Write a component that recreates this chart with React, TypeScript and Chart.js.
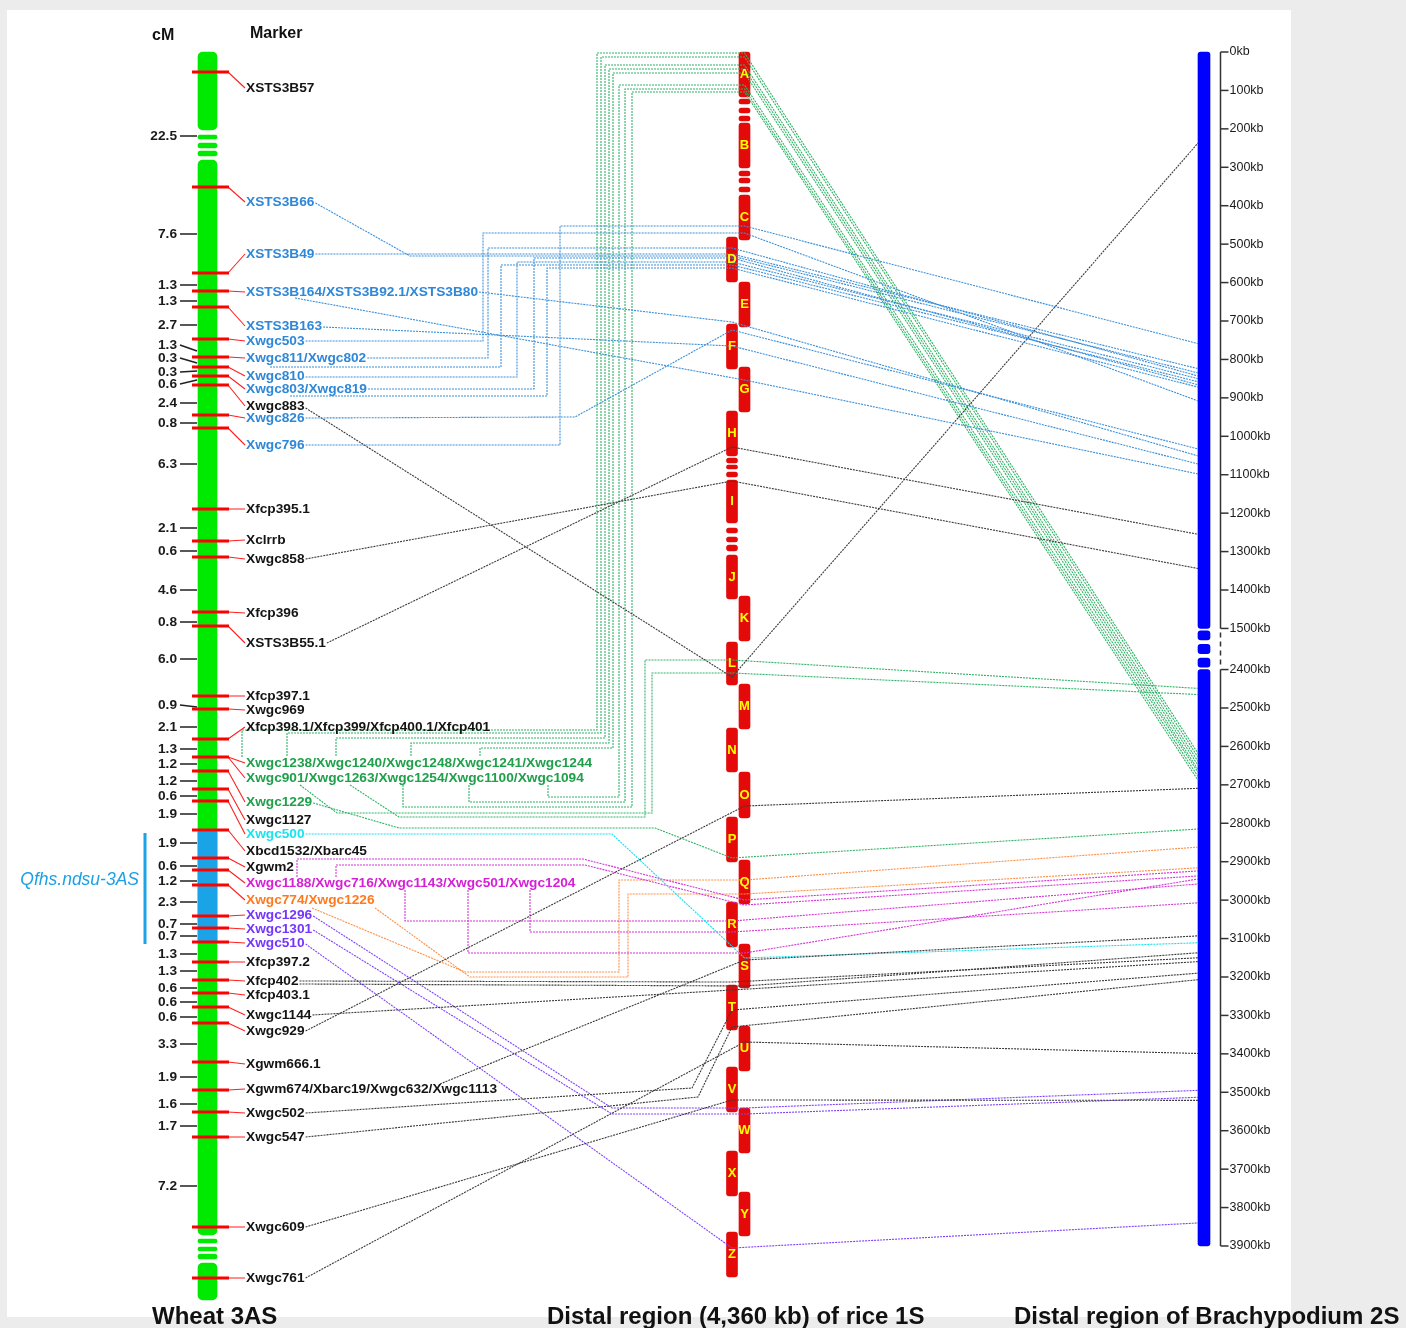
import { useEffect, useRef } from 'react';
import { Chart, registerables } from 'chart.js';

Chart.register(...registerables);

/* ======================= DATA ======================= */

// Wheat 3AS linkage map: positions of the 42 loci along the drawn map (map units, top -> bottom)
const WHEAT_LOCI = [72, 187, 273, 291, 307, 339, 357, 367, 376, 385, 415, 428, 509, 541, 557, 612, 626, 696, 709, 739, 757, 771, 789, 801, 830, 858, 870, 885, 916, 928, 942, 962, 980, 993, 1007, 1023, 1062, 1090, 1112, 1137, 1227, 1278];

// genetic distances (cM) between adjacent loci, where they are printed and where the leader meets the bar
const CM_VALUES = ['22.5', '7.6', '1.3', '1.3', '2.7', '1.3', '0.3', '0.3', '0.6', '2.4', '0.8', '6.3', '2.1', '0.6', '4.6', '0.8', '6.0', '0.9', '2.1', '1.3', '1.2', '1.2', '0.6', '1.9', '1.9', '0.6', '1.2', '2.3', '0.7', '0.7', '1.3', '1.3', '0.6', '0.6', '0.6', '3.3', '1.9', '1.6', '1.7', '7.2'];
const CM_LABEL_POS = [136, 234, 285, 301, 325, 345, 358, 372, 384, 403, 423, 464, 528, 551, 590, 622, 659, 705, 727, 749, 764, 781, 796, 814, 843, 866, 881, 902, 924, 936, 954, 971, 988, 1002, 1017, 1044, 1077, 1104, 1126, 1186];
const CM_LEADER_POS = [136, 234, 285, 301, 325, 351, 363, 371, 380, 403, 423, 464, 528, 551, 590, 622, 659, 707, 727, 749, 764, 781, 796, 814, 843, 866, 881, 902, 924, 936, 954, 971, 988, 1002, 1017, 1044, 1077, 1104, 1126, 1186];

// markers: name, label position, locus index, colour group
const MARKER_NAMES = [
  'XSTS3B57', 'XSTS3B66', 'XSTS3B49', 'XSTS3B164/XSTS3B92.1/XSTS3B80', 'XSTS3B163', 'Xwgc503',
  'Xwgc811/Xwgc802', 'Xwgc810', 'Xwgc803/Xwgc819', 'Xwgc883', 'Xwgc826', 'Xwgc796',
  'Xfcp395.1', 'Xclrrb', 'Xwgc858', 'Xfcp396', 'XSTS3B55.1', 'Xfcp397.1', 'Xwgc969',
  'Xfcp398.1/Xfcp399/Xfcp400.1/Xfcp401', 'Xwgc1238/Xwgc1240/Xwgc1248/Xwgc1241/Xwgc1244',
  'Xwgc901/Xwgc1263/Xwgc1254/Xwgc1100/Xwgc1094', 'Xwgc1229', 'Xwgc1127', 'Xwgc500',
  'Xbcd1532/Xbarc45', 'Xgwm2', 'Xwgc1188/Xwgc716/Xwgc1143/Xwgc501/Xwgc1204', 'Xwgc774/Xwgc1226',
  'Xwgc1296', 'Xwgc1301', 'Xwgc510', 'Xfcp397.2', 'Xfcp402', 'Xfcp403.1', 'Xwgc1144', 'Xwgc929',
  'Xgwm666.1', 'Xgwm674/Xbarc19/Xwgc632/Xwgc1113', 'Xwgc502', 'Xwgc547', 'Xwgc609', 'Xwgc761'
];
const MARKER_LABEL_POS = [88, 202, 254, 292, 326, 341, 358, 376, 389, 406, 418, 445, 509, 540, 559, 613, 643, 696, 710, 727, 763, 778, 802, 820, 834, 851, 867, 883, 900, 915, 929, 943, 962, 981, 995, 1015, 1031, 1064, 1089, 1113, 1137, 1227, 1278];
const MARKER_LOCUS = [0, 1, 2, 3, 4, 5, 6, 7, 8, 9, 10, 11, 12, 13, 14, 15, 16, 17, 18, 19, 20, 20, 21, 22, 23, 24, 25, 26, 27, 28, 29, 30, 31, 32, 33, 34, 35, 36, 37, 38, 39, 40, 41];
const MARKER_GROUP = ['k', 'b', 'b', 'b', 'b', 'b', 'b', 'b', 'b', 'k', 'b', 'b', 'k', 'k', 'k', 'k', 'k', 'k', 'k', 'k', 'g', 'g', 'g', 'k', 'c', 'k', 'k', 'm', 'o', 'p', 'p', 'p', 'k', 'k', 'k', 'k', 'k', 'k', 'k', 'k', 'k', 'k', 'k'];

// wheat chromosome pieces (map units); QTL spans two loci
const WHEAT_PIECES = [[52, 130], [135, 139], [143, 148], [151, 156], [160, 1235], [1239, 1243], [1247, 1251], [1254, 1259], [1263, 1300]];
const QTL_NAME = 'Qfhs.ndsu-3AS';
const QTL_LOCI = [24, 30];

// rice 1S distal region: blocks A-Z (map units), column 0 = left, 1 = right
const RICE_LETTERS = ['A', '', '', '', 'B', '', '', '', 'C', 'D', 'E', 'F', 'G', 'H', '', '', '', 'I', '', '', '', 'J', 'K', 'L', 'M', 'N', 'O', 'P', 'Q', 'R', 'S', 'T', 'U', 'V', 'W', 'X', 'Y', 'Z'];
const RICE_START = [52, 99, 108, 116, 123, 171, 178, 187, 195, 237, 282, 324, 367, 411, 458, 465, 472, 480, 528, 537, 545, 555, 596, 642, 684, 728, 772, 817, 860, 902, 944, 985, 1026, 1067, 1108, 1151, 1192, 1232];
const RICE_END = [97, 104, 113, 121, 168, 176, 183, 192, 240, 282, 327, 369, 412, 456, 463, 469, 477, 523, 533, 542, 551, 599, 641, 685, 729, 772, 818, 862, 904, 947, 988, 1030, 1071, 1112, 1153, 1196, 1236, 1277];
const RICE_COLUMN = [1, 1, 1, 1, 1, 1, 1, 1, 1, 0, 1, 0, 1, 0, 0, 0, 0, 0, 0, 0, 0, 0, 1, 0, 1, 0, 1, 0, 1, 0, 1, 0, 1, 0, 1, 0, 1, 0];

// Brachypodium 2S distal region (kb)
const BRACHY_PIECES_KB = [[0, 1500], [2400, 3900]];
const BRACHY_BREAK_KB = [1500, 2400];
const BRACHY_TICKS_KB = [0, 100, 200, 300, 400, 500, 600, 700, 800, 900, 1000, 1100, 1200, 1300, 1400, 1500, 2400, 2500, 2600, 2700, 2800, 2900, 3000, 3100, 3200, 3300, 3400, 3500, 3600, 3700, 3800, 3900];

// syntenic links: wheat marker -> rice block / position -> Brachypodium kb
const LINK_MARKER = [1, 2, 3, 3, 4, 5, 6, 7, 7, 8, 8, 10, 11, 9, 14, 16, 36, 33, 33, 35, 38, 39, 40, 42, 41, 20, 20, 20, 20, 20, 21, 21, 21, 21, 21, 22, 24, 27, 27, 27, 27, 27, 28, 28, 29, 30, 31];
const LINK_RICE_BLOCK = ['D', 'D', 'F', 'G', 'F', 'C', 'D', 'D', 'D', 'D', 'D', 'F', 'C', 'L', 'I', 'H', 'O', 'T', 'S', 'T', 'S', 'T', 'T', 'U', 'V', 'A', 'A', 'A', 'A', 'A', 'A', 'A', 'A', 'L', 'L', 'P', 'S', 'Q', 'Q', 'R', 'S', 'R', 'Q', 'Q', 'W', 'W', 'Z'];
const LINK_RICE_POS = [256, 254, 322, 380, 346, 233, 248, 265, 262, 258, 268, 330, 226, 677, 481, 447, 806, 982, 986, 990, 960, 1010, 1027, 1042, 1100, 53, 57, 65, 69, 73, 85, 89, 92, 660, 673, 858, 958, 900, 905, 921, 953, 932, 880, 894, 1108, 1114, 1248];
const LINK_BRACHY_KB = [835, 824, 1051, 1098, 1072, 908, 843, 858, 850, 866, 872, 1033, 759, 237, 1344, 1255, 2709, 3150, 3137, 3160, 3093, 3190, 3207, 3399, 3521, 2618, 2628, 2639, 2649, 2660, 2667, 2678, 2688, 2449, 2465, 2815, 3111, 2924, 2937, 2958, 2945, 3007, 2862, 2916, 3495, 3513, 3840];

// drawing routes of the links (null start = end of the marker label)
const LINK_START_X = [null, null, null, 295, null, null, null, 270, null, null, 290, null, null, null, null, null, null, null, null, null, 440, null, null, null, null, 242, 287, 336, 411, 480, 548, 469, 403, 350, 300, null, null, 297, 336, 405, 468, 530, 312, 375, null, null, null];
const LINK_START_Y = [203, 254, 292, 298, 327, 341, 358, 367, 377, 389, 396, 418, 445, 408, 559, 643, 1031, 981, 984, 1015, 1084, 1113, 1137, 1278, 1227, 757, 756, 756, 756, 756, 785, 785, 785, 785, 785, 803, 834, 877, 877, 890, 890, 890, 908, 908, 916, 930, 944];
const LINK_VIA = [
  [[410, 256]], [], [], [], [], [[483, 341], [483, 233]], [[488, 358], [488, 248]], [[501, 367], [501, 265]],
  [[517, 377], [517, 262]], [[534, 389], [534, 258]], [[547, 396], [547, 268]], [[575, 417]], [[560, 445], [560, 226]],
  [], [], [], [], [], [], [], [], [[692, 1088]], [[698, 1097]], [], [],
  [[242, 730], [597, 730], [597, 53]], [[287, 733], [601, 733], [601, 57]], [[336, 738], [605, 738], [605, 65]],
  [[411, 743], [609, 743], [609, 69]], [[480, 748], [613, 748], [613, 73]], [[548, 797], [619, 797], [619, 85]],
  [[469, 802], [625, 802], [625, 89]], [[403, 807], [632, 807], [632, 92]], [[399, 817], [645, 817], [645, 660]],
  [[337, 813], [652, 813], [652, 673]], [[399, 828], [655, 828]],
  [[612, 834]],
  [[297, 859], [583, 859]], [[336, 865], [585, 865]], [[405, 921]], [[468, 953]], [[530, 932]],
  [[465, 972], [619, 972], [619, 880]], [[470, 977], [628, 977], [628, 894]],
  [[612, 1108]], [[612, 1114]], []
];

/* ======================= LAYOUT / STYLE ======================= */
const W = 1406;
const H = 1328;
const FONT = "'Liberation Sans', Arial, Helvetica, sans-serif";
const LABEL_FONT = `bold 13.7px ${FONT}`;
const LABEL_X = 246;
const WHEAT_X = 207.5;
const RICE_COL_X = [732, 744.5];
const BRACHY_X = 1204;
const BRACHY_EDGE = 1198;
const AXIS_X = 1220;
const BRACHY_TOP = 52;
const BRACHY_BOTTOM = 1246;
const BREAK_ROOM = 107;

const TEXT_COLORS: any = { k: '#141414', b: '#2f87d8', g: '#1fa04a', c: '#19e4f0', m: '#d61fd6', o: '#ff7a1f', p: '#7436ff' };
const LINE_COLORS: any = { k: '#3a3a3a', b: '#3a8fda', g: '#2fb366', c: '#14e0ee', m: '#d633d6', o: '#ff8f45', p: '#7f40ff' };

const virt = (kb: number) => (kb <= BRACHY_BREAK_KB[0] ? kb : kb - (BRACHY_BREAK_KB[1] - BRACHY_BREAK_KB[0]) + BREAK_ROOM);
const KB_SCALE = (BRACHY_BOTTOM - BRACHY_TOP) / virt(BRACHY_TICKS_KB[BRACHY_TICKS_KB.length - 1]);
const kbToMap = (kb: number) => BRACHY_TOP + virt(kb) * KB_SCALE;

function buildChart(canvas: HTMLCanvasElement) {
  const mctx = document.createElement('canvas').getContext('2d') as CanvasRenderingContext2D;
  mctx.font = LABEL_FONT;
  const labelEnd = (i: number) => LABEL_X + mctx.measureText(MARKER_NAMES[i]).width + 1;

  const datasets: any[] = [];
  const bar = (data: any[], color: string, thickness: number, radius: number, order: number, yAxisID = 'y') => ({
    type: 'bar', data, backgroundColor: color, barThickness: thickness, grouped: false,
    borderRadius: radius, borderSkipped: false, borderWidth: 0, order, yAxisID
  });
  const line = (data: any[], color: string, width: number, dash: number[], order: number) => ({
    type: 'line', data, borderColor: color, borderWidth: width, borderDash: dash, pointRadius: 0,
    pointHoverRadius: 0, fill: false, tension: 0, spanGaps: false, order, borderCapStyle: 'butt'
  });

  // wheat chromosome + QTL
  datasets.push(bar(WHEAT_PIECES.map(([a, b]) => ({ x: WHEAT_X, y: [a, b] })), '#00ea00', 19, 5, 20));
  datasets.push(bar([{ x: WHEAT_X, y: [WHEAT_LOCI[QTL_LOCI[0]] + 2, WHEAT_LOCI[QTL_LOCI[1]]] }], '#1aa3e6', 19, 0, 19));
  // rice blocks
  datasets.push(bar(RICE_START.map((s, i) => ({ x: RICE_COL_X[RICE_COLUMN[i]], y: [s, RICE_END[i]] })), '#e50a0a', 11, 3, 20));
  // brachypodium chromosome (kb axis)
  const brData: any[] = BRACHY_PIECES_KB.map(([a, b]) => ({ x: BRACHY_X, y: [virt(a), virt(b)] }));
  const g0 = virt(BRACHY_BREAK_KB[0]);
  const g1 = virt(BRACHY_BREAK_KB[1]);
  const slot = (g1 - g0) / 3;
  for (let i = 0; i < 3; i++) brData.push({ x: BRACHY_X, y: [g0 + slot * i + 6, g0 + slot * (i + 1) - 6] });
  datasets.push(bar(brData, '#0000ff', 12, 3, 20, 'yB'));

  // QTL bracket
  datasets.push(line([{ x: 145, y: WHEAT_LOCI[QTL_LOCI[0]] + 3 }, { x: 145, y: WHEAT_LOCI[QTL_LOCI[1]] + 2 }], '#1aa3e6', 3, [], 2));

  // cM leaders
  const cmPts: any[] = [];
  CM_VALUES.forEach((_, i) => cmPts.push({ x: 180, y: CM_LABEL_POS[i] }, { x: 197, y: CM_LEADER_POS[i] }, { x: 197, y: null }));
  datasets.push(line(cmPts, '#222222', 1.6, [], 2));

  // marker connectors and loci ticks
  const connPts: any[] = [];
  MARKER_NAMES.forEach((_, i) => {
    const p = WHEAT_LOCI[MARKER_LOCUS[i]];
    connPts.push({ x: 228, y: p }, { x: 245, y: MARKER_LABEL_POS[i] }, { x: 245, y: null });
  });
  datasets.push(line(connPts, '#ff2020', 1.1, [], 1));
  const tickPts: any[] = [];
  WHEAT_LOCI.forEach((p) => tickPts.push({ x: 192, y: p }, { x: 229, y: p }, { x: 229, y: null }));
  datasets.push(line(tickPts, '#ff0000', 3, [], 0));

  // syntenic links
  LINK_MARKER.forEach((m, i) => {
    const blk = RICE_LETTERS.indexOf(LINK_RICE_BLOCK[i]);
    const rx = RICE_COL_X[RICE_COLUMN[blk]];
    const sx = LINK_START_X[i] == null ? labelEnd(m) : (LINK_START_X[i] as number);
    const pts = [
      { x: sx, y: LINK_START_Y[i] },
      ...LINK_VIA[i].map(([x, y]) => ({ x, y })),
      { x: rx, y: LINK_RICE_POS[i] },
      { x: BRACHY_EDGE, y: kbToMap(LINK_BRACHY_KB[i]) }
    ];
    datasets.push(line(pts, LINE_COLORS[MARKER_GROUP[m]], 1.1, [2, 1], 3));
  });

  const decor = {
    id: 'mapDecor',
    beforeDraw(chart: any) {
      const { ctx } = chart;
      const X = (v: number) => chart.scales.x.getPixelForValue(v);
      const Y = (v: number) => chart.scales.y.getPixelForValue(v);
      ctx.save();
      ctx.fillStyle = '#ececec';
      ctx.fillRect(0, 0, chart.width, chart.height);
      ctx.fillStyle = '#ffffff';
      ctx.fillRect(X(7), Y(10), X(1291) - X(7), Y(1317) - Y(10));
      ctx.restore();
    },
    afterDatasetsDraw(chart: any) {
      const { ctx } = chart;
      const X = (v: number) => chart.scales.x.getPixelForValue(v);
      const Y = (v: number) => chart.scales.y.getPixelForValue(v);
      const yb = chart.scales.yB;
      ctx.save();
      ctx.textBaseline = 'middle';

      ctx.fillStyle = '#111111';
      ctx.font = `bold 16px ${FONT}`;
      ctx.textAlign = 'left';
      ctx.fillText('cM', X(152), Y(36));
      ctx.fillText('Marker', X(250), Y(34));

      ctx.font = LABEL_FONT;
      ctx.textAlign = 'right';
      ctx.fillStyle = '#1a1a1a';
      CM_VALUES.forEach((t, i) => ctx.fillText(t, X(177), Y(CM_LABEL_POS[i])));

      ctx.textAlign = 'left';
      MARKER_NAMES.forEach((t, i) => {
        ctx.fillStyle = TEXT_COLORS[MARKER_GROUP[i]];
        ctx.fillText(t, X(LABEL_X), Y(MARKER_LABEL_POS[i]));
      });

      ctx.font = `italic 17.5px ${FONT}`;
      ctx.fillStyle = '#1c9fe4';
      ctx.textAlign = 'right';
      ctx.fillText(QTL_NAME, X(139), Y((WHEAT_LOCI[QTL_LOCI[0]] + WHEAT_LOCI[QTL_LOCI[1]]) / 2 - 6));

      ctx.font = `bold 13px ${FONT}`;
      ctx.fillStyle = '#ffff00';
      ctx.textAlign = 'center';
      RICE_LETTERS.forEach((l, i) => {
        if (!l) return;
        ctx.fillText(l, X(RICE_COL_X[RICE_COLUMN[i]]), Y((RICE_START[i] + RICE_END[i]) / 2));
      });

      // Brachypodium kb axis
      const ax = Math.round(X(AXIS_X)) + 0.5;
      ctx.strokeStyle = '#333333';
      ctx.lineWidth = 1.5;
      ctx.beginPath();
      BRACHY_PIECES_KB.forEach(([a, b]) => {
        ctx.moveTo(ax, yb.getPixelForValue(virt(a)));
        ctx.lineTo(ax, yb.getPixelForValue(virt(b)));
      });
      ctx.stroke();
      ctx.setLineDash([5, 4]);
      ctx.beginPath();
      ctx.moveTo(ax, yb.getPixelForValue(g0) + 4);
      ctx.lineTo(ax, yb.getPixelForValue(g1) - 4);
      ctx.stroke();
      ctx.setLineDash([]);
      ctx.font = `12.5px ${FONT}`;
      ctx.fillStyle = '#1a1a1a';
      ctx.textAlign = 'left';
      BRACHY_TICKS_KB.forEach((kb) => {
        const py = yb.getPixelForValue(virt(kb));
        ctx.beginPath();
        ctx.moveTo(ax, py);
        ctx.lineTo(ax + 8, py);
        ctx.stroke();
        ctx.fillText(`${kb}kb`, ax + 9, py);
      });

      // titles
      ctx.font = `bold 24px ${FONT}`;
      ctx.fillStyle = '#111111';
      ctx.textBaseline = 'alphabetic';
      ctx.fillText('Wheat 3AS', X(152), Y(1324));
      ctx.fillText('Distal region (4,360 kb) of rice 1S', X(547), Y(1324));
      ctx.fillText('Distal region of Brachypodium 2S', X(1014), Y(1324));
      ctx.restore();
    }
  };

  return new Chart(canvas, {
    type: 'line',
    data: { datasets },
    options: {
      responsive: false,
      animation: false,
      events: [],
      devicePixelRatio: 1,
      layout: { padding: 0, autoPadding: false },
      plugins: { legend: { display: false }, tooltip: { enabled: false } },
      scales: {
        x: { type: 'linear', min: 0, max: W, display: false, offset: false, grid: { offset: false } },
        y: { type: 'linear', min: 0, max: H, reverse: true, display: false, offset: false },
        yB: { type: 'linear', min: -BRACHY_TOP / KB_SCALE, max: (H - BRACHY_TOP) / KB_SCALE, reverse: true, display: false, offset: false }
      }
    } as any,
    plugins: [decor]
  } as any);
}

export default function App() {
  const ref = useRef<HTMLCanvasElement>(null);
  useEffect(() => {
    if (!ref.current) return;
    const chart = buildChart(ref.current);
    return () => chart.destroy();
  }, []);
  return (
    <div style={{ position: 'absolute', left: 0, top: 0, width: W, height: H }}>
      <canvas ref={ref} width={W} height={H} style={{ display: 'block', width: W, height: H }} />
    </div>
  );
}
